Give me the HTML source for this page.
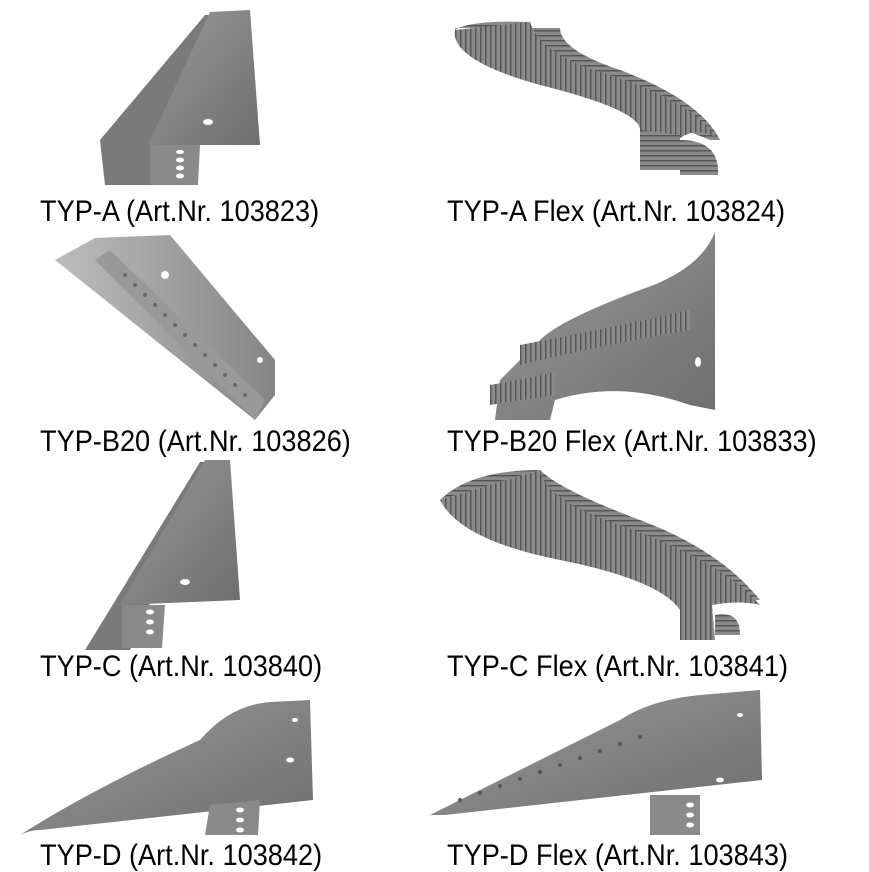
<!DOCTYPE html>
<html><head><style>
body{margin:0;background:#fff;width:869px;height:869px;overflow:hidden;position:relative;font-family:"Liberation Sans",Arial,sans-serif}
.t{position:absolute;font-size:30px;line-height:30px;color:#000;white-space:nowrap;transform:scaleX(0.905);transform-origin:0 0}
svg{position:absolute;left:0;top:0}
</style></head><body>
<svg width="869" height="869" viewBox="0 0 869 869">
<defs>
<linearGradient id="g1" x1="0" y1="0" x2="1" y2="1"><stop offset="0" stop-color="#9a9a9a"/><stop offset="1" stop-color="#6e6e6e"/></linearGradient>
<linearGradient id="g2" x1="0" y1="0" x2="1" y2="0"><stop offset="0" stop-color="#bdbdbd"/><stop offset="1" stop-color="#858585"/></linearGradient>
<pattern id="rib" width="5" height="5" patternUnits="userSpaceOnUse"><rect width="5" height="5" fill="#8a8a8a"/><rect width="1.5" height="5" fill="#555"/></pattern>
<pattern id="ribh" width="5" height="5" patternUnits="userSpaceOnUse"><rect width="5" height="5" fill="#8a8a8a"/><rect width="5" height="1.5" fill="#555"/></pattern>
</defs>
<!-- TYP-A -->
<polygon points="100,140 205,15 212,15 150,185 105,185" fill="#7a7a7a"/>
<polygon points="210,12 250,10 260,145 148,145" fill="url(#g1)"/>
<polygon points="150,145 200,145 198,185 150,185" fill="#8a8a8a"/>
<g fill="#fff"><ellipse cx="180" cy="152" rx="4" ry="2"/><ellipse cx="180" cy="160" rx="4" ry="2.5"/><ellipse cx="180" cy="168" rx="4" ry="2.5"/><ellipse cx="180" cy="176" rx="4" ry="2.5"/><ellipse cx="208" cy="122" rx="5" ry="3"/></g>
<!-- TYP-A Flex -->
<path d="M455,30 Q470,20 530,22 Q500,40 560,80 Q660,120 710,140 L720,140 Q700,100 620,70 Q560,50 560,28 L455,28 Z" fill="url(#ribh)"/>
<path d="M455,30 Q450,60 540,85 Q640,110 640,130 L640,165 L680,165 L680,138 Q700,125 720,140 Q690,100 610,75 Q540,55 530,22 Z" fill="url(#rib)"/>
<path d="M640,130 L680,135 L680,170 L640,170 Z" fill="url(#ribh)"/>
<path d="M680,140 Q720,140 718,175 L680,175 Z" fill="url(#ribh)"/>
<!-- TYP-B20 -->
<polygon points="55,260 95,238 170,235 275,360 275,395 255,420" fill="url(#g2)"/>
<polygon points="95,260 110,250 265,400 255,420" fill="#999"/>
<g fill="#666">
<circle cx="125" cy="275" r="2"/><circle cx="135" cy="285" r="2"/><circle cx="145" cy="295" r="2"/><circle cx="155" cy="305" r="2"/><circle cx="165" cy="315" r="2"/><circle cx="175" cy="325" r="2"/><circle cx="185" cy="335" r="2"/><circle cx="195" cy="345" r="2"/><circle cx="205" cy="355" r="2"/><circle cx="215" cy="365" r="2"/><circle cx="225" cy="375" r="2"/><circle cx="235" cy="385" r="2"/><circle cx="245" cy="395" r="2"/></g>
<circle cx="165" cy="275" r="4" fill="#fff"/><circle cx="260" cy="360" r="3" fill="#fff"/>
<!-- TYP-B20 Flex -->
<path d="M715,232 Q700,270 640,290 Q560,320 540,340 Q520,360 500,380 L495,420 L550,420 L555,400 Q620,380 690,405 L715,410 Z" fill="url(#g1)"/>
<path d="M520,345 Q600,330 690,310 L690,330 Q600,345 520,365 Z" fill="url(#rib)"/>
<path d="M490,385 Q520,380 555,372 L555,395 Q520,400 490,405 Z" fill="url(#rib)"/>
<ellipse cx="698" cy="362" rx="3" ry="5" fill="#fff"/>
<!-- TYP-C -->
<polygon points="85,650 200,462 210,462 130,650" fill="#7a7a7a"/>
<polygon points="205,460 230,460 240,600 120,605" fill="url(#g1)"/>
<polygon points="122,605 165,605 162,648 122,648" fill="#8a8a8a"/>
<g fill="#fff"><ellipse cx="150" cy="612" rx="4" ry="2.5"/><ellipse cx="150" cy="622" rx="4" ry="2.5"/><ellipse cx="150" cy="632" rx="4" ry="2.5"/><ellipse cx="185" cy="582" rx="5" ry="3"/></g>
<!-- TYP-C Flex -->
<path d="M440,500 Q470,470 540,470 Q520,500 600,540 Q700,570 740,600 L760,600 Q720,550 640,520 Q560,490 540,470 Z" fill="url(#ribh)"/>
<path d="M440,500 Q460,540 560,560 Q660,580 680,610 L680,640 L715,640 L712,605 Q740,600 760,605 Q720,560 620,525 Q545,500 540,470 Z" fill="url(#rib)"/>
<path d="M715,615 Q740,610 740,635 L715,635 Z" fill="url(#ribh)"/>
<!-- TYP-D -->
<path d="M20,835 Q90,790 200,740 Q230,705 270,702 L310,700 L313,800 L40,830 Q30,830 20,835 Z" fill="url(#g1)"/>
<polygon points="210,805 260,800 258,835 205,835" fill="#8a8a8a"/>
<g fill="#fff"><ellipse cx="240" cy="810" rx="4" ry="2.5"/><ellipse cx="240" cy="820" rx="4" ry="2.5"/><ellipse cx="240" cy="830" rx="4" ry="2.5"/><ellipse cx="295" cy="720" rx="3" ry="2"/><ellipse cx="290" cy="760" rx="4" ry="2.5"/></g>
<!-- TYP-D Flex -->
<path d="M430,815 Q540,760 620,720 Q650,700 700,695 L760,690 L762,780 L445,815 Z" fill="url(#g1)"/>
<polygon points="650,795 700,795 700,835 650,835" fill="#8a8a8a"/>
<g fill="#555"><circle cx="460" cy="800" r="2"/><circle cx="480" cy="793" r="2"/><circle cx="500" cy="786" r="2"/><circle cx="520" cy="779" r="2"/><circle cx="540" cy="772" r="2"/><circle cx="560" cy="765" r="2"/><circle cx="580" cy="758" r="2"/><circle cx="600" cy="751" r="2"/><circle cx="620" cy="744" r="2"/><circle cx="640" cy="737" r="2"/></g>
<g fill="#fff"><ellipse cx="690" cy="805" rx="4" ry="2.5"/><ellipse cx="690" cy="815" rx="4" ry="2.5"/><ellipse cx="690" cy="825" rx="4" ry="2.5"/><ellipse cx="740" cy="715" rx="3" ry="2"/><ellipse cx="720" cy="780" rx="4" ry="2.5"/></g>
</svg>
<div class="t" style="left:40px;top:197px">TYP-A (Art.Nr. 103823)</div>
<div class="t" style="left:447px;top:197px">TYP-A Flex (Art.Nr. 103824)</div>
<div class="t" style="left:40px;top:427px">TYP-B20 (Art.Nr. 103826)</div>
<div class="t" style="left:447px;top:427px">TYP-B20 Flex (Art.Nr. 103833)</div>
<div class="t" style="left:40px;top:652px">TYP-C (Art.Nr. 103840)</div>
<div class="t" style="left:447px;top:652px">TYP-C Flex (Art.Nr. 103841)</div>
<div class="t" style="left:40px;top:841px">TYP-D (Art.Nr. 103842)</div>
<div class="t" style="left:447px;top:841px">TYP-D Flex (Art.Nr. 103843)</div>
</body></html>
